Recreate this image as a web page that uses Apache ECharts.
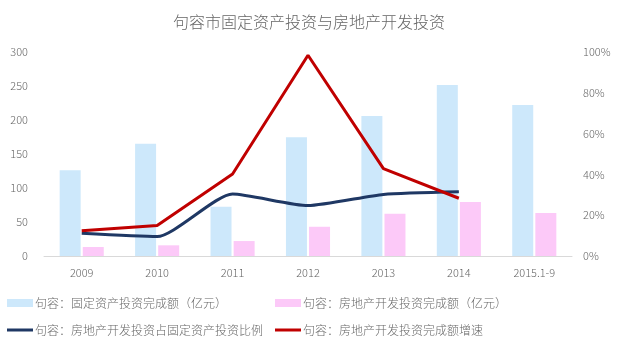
<!DOCTYPE html>
<html>
<head>
<meta charset="utf-8">
<script src="https://cdn.jsdelivr.net/npm/echarts@6/dist/echarts.min.js"></script>
<style>
  html, body { margin: 0; padding: 0; background: #fff; }
  #chart { width: 618px; height: 347px; }
</style>
</head>
<body>
<div id="chart"></div>
<script>
// Categories (years)
const years = ['2009', '2010', '2011', '2012', '2013', '2014', '2015.1-9'];

// Fixed-asset investment completed (100 million yuan)
const fixedAssetInvest = [126, 165, 72.5, 174.5, 206, 251.5, 222];
// Real-estate development investment completed (100 million yuan)
const realEstateInvest = [13.2, 15.7, 22, 43, 62.2, 79.4, 63.2];
// Share of real-estate investment in fixed-asset investment (ratio)
const realEstateShare = [0.111, 0.095, 0.304, 0.247, 0.302, 0.315, null];
// Growth rate of real-estate investment (ratio)
const realEstateGrowth = [0.124, 0.149, 0.402, 0.984, 0.428, 0.283, null];

// Axis ticks
const leftTicks = { min: 0, max: 300, interval: 50 };
const rightTicks = { min: 0, max: 1, interval: 0.2 };

const names = [
  '句容：固定资产投资完成额（亿元）',
  '句容：房地产开发投资完成额（亿元）',
  '句容：房地产开发投资占固定资产投资比例',
  '句容：房地产开发投资完成额增速'
];

const FONT = '"Noto Sans CJK SC", "Noto Sans", sans-serif';
const TXT = '#666666';
const colors = ['#cde8fb', '#fcc9f8', '#1f3864', '#c00000'];

function legendAt(name, left, top, isLine) {
  return {
    data: [name],
    left: left, top: top,
    orient: 'horizontal',
    itemWidth: 26,
    itemHeight: isLine ? 3 : 8,
    icon: 'rect',
    selectedMode: false,
    textStyle: { color: TXT, fontSize: 12, fontWeight: 300, fontFamily: FONT, padding: [0, 0, 0, -3] }
  };
}

const chart = echarts.init(document.getElementById('chart'), null, { renderer: 'canvas' });
chart.setOption({
  animation: false,
  color: colors,
  title: {
    text: '句容市固定资产投资与房地产开发投资',
    left: 'center', top: 9,
    textStyle: { color: TXT, fontSize: 16, fontWeight: 300, fontFamily: FONT }
  },
  legend: [
    legendAt(names[0], 2, 292, false),
    legendAt(names[1], 270, 292, false),
    legendAt(names[2], 2, 319, true),
    legendAt(names[3], 270, 319, true)
  ],
  grid: { left: 44, right: 46, top: 52, bottom: 91, containLabel: false },
  xAxis: {
    type: 'category',
    data: years,
    axisLine: { lineStyle: { color: '#d9d9d9', width: 1 } },
    axisTick: { show: false },
    axisLabel: { color: TXT, fontSize: 11, fontWeight: 300, fontFamily: FONT, margin: 11 }
  },
  yAxis: [
    {
      type: 'value', min: leftTicks.min, max: leftTicks.max, interval: leftTicks.interval,
      axisLine: { show: false }, axisTick: { show: false },
      splitLine: { show: false },
      axisLabel: { color: TXT, fontSize: 11, fontWeight: 300, fontFamily: FONT, margin: 16 }
    },
    {
      type: 'value', min: rightTicks.min, max: rightTicks.max, interval: rightTicks.interval,
      axisLine: { show: false }, axisTick: { show: false },
      splitLine: { show: false },
      axisLabel: {
        color: TXT, fontSize: 11, fontWeight: 300, fontFamily: FONT, margin: 11,
        formatter: v => Math.round(v * 100) + '%'
      }
    }
  ],
  series: [
    {
      name: names[0], type: 'bar', yAxisIndex: 0,
      data: fixedAssetInvest, barWidth: 21, barGap: '10%',
      itemStyle: { color: colors[0] }
    },
    {
      name: names[1], type: 'bar', yAxisIndex: 0,
      data: realEstateInvest, barWidth: 21, barGap: '10%',
      itemStyle: { color: colors[1] }
    },
    {
      name: names[2], type: 'line', yAxisIndex: 1,
      data: realEstateShare, smooth: 0.2, symbol: 'none',
      itemStyle: { color: colors[2] },
      lineStyle: { color: colors[2], width: 3 }
    },
    {
      name: names[3], type: 'line', yAxisIndex: 1,
      data: realEstateGrowth, symbol: 'none',
      itemStyle: { color: colors[3] },
      lineStyle: { color: colors[3], width: 3 }
    }
  ]
});
</script>
</body>
</html>
